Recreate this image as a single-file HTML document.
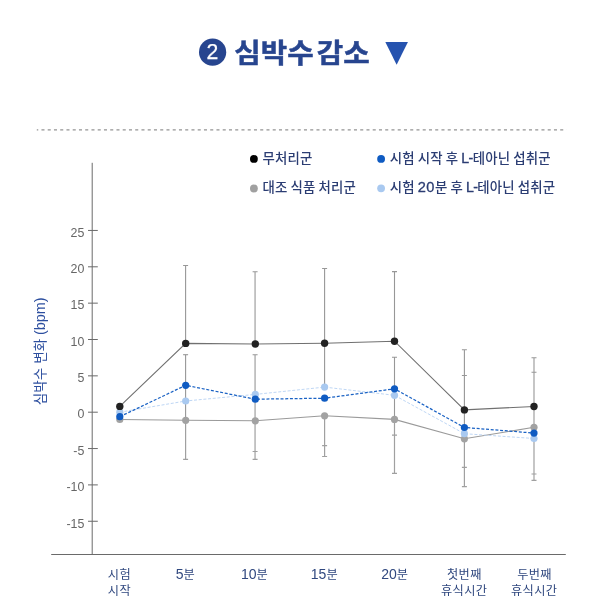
<!DOCTYPE html>
<html lang="ko">
<head>
<meta charset="utf-8">
<title>심박수 감소</title>
<style>
html,body{margin:0;padding:0;background:#fff;}
body{width:605px;height:607px;overflow:hidden;font-family:"Liberation Sans","Noto Sans CJK KR",sans-serif;}
svg{display:block;}
.ko{font-family:"Liberation Sans","Noto Sans CJK KR",sans-serif;}
.title{font-family:"Liberation Sans","Noto Sans CJK KR",sans-serif;font-weight:700;font-size:26.9px;fill:#27458f;stroke:#27458f;stroke-width:0.45px;}
.leg{font-family:"Liberation Sans","Noto Sans CJK KR",sans-serif;font-weight:500;font-size:13.4px;fill:#2b3d73;word-spacing:-0.9px;letter-spacing:0.18px;}
.xl{font-family:"Liberation Sans","Noto Sans CJK KR",sans-serif;font-weight:400;font-size:12.2px;letter-spacing:0.35px;fill:#30487f;text-anchor:middle;}
.xl .d{font-size:14px;letter-spacing:0;}
.leg .d{font-size:14.6px;letter-spacing:0.45px;stroke:#2b3d73;stroke-width:0.3px;}
.leg .L{font-size:14.2px;letter-spacing:-0.6px;stroke:#2b3d73;stroke-width:0.35px;}
.yl{font-family:"Liberation Sans","Noto Sans CJK KR",sans-serif;font-weight:400;font-size:12.4px;fill:#666;text-anchor:end;}
.yt{font-family:"Liberation Sans","Noto Sans CJK KR",sans-serif;font-weight:400;font-size:13.6px;fill:#2d4f9f;text-anchor:middle;}
</style>
</head>
<body>
<svg width="605" height="607" viewBox="0 0 605 607">
<rect width="605" height="607" fill="#fff"/>
<!-- title -->
<circle cx="212.6" cy="52.2" r="13.6" fill="#27458f"/>
<text x="212.4" y="59.0" text-anchor="middle" style="font-family:'Liberation Sans',sans-serif;font-size:21.2px;fill:#fff;stroke:#fff;stroke-width:0.25px;">2</text>
<text class="title" transform="translate(234.3 63.1) scale(1.07 1)" style="word-spacing:-4.7px">심박수 감소</text>
<text x="396.7" y="61.1" text-anchor="middle" style="font-family:'DejaVu Sans',sans-serif;font-size:29.6px;fill:#2653af;">▼</text>
<!-- dotted rule -->
<line x1="36.8" y1="129.9" x2="566.5" y2="129.9" stroke="#949494" stroke-width="1.1" stroke-dasharray="3.05 3.2" stroke-dashoffset="1.6"/>
<!-- legend -->
<circle cx="253.9" cy="158.9" r="3.9" fill="#000"/>
<text class="leg" x="262.5" y="162.9">무처리군</text>
<circle cx="253.9" cy="188.5" r="3.9" fill="#a0a0a0"/>
<text class="leg" x="262.5" y="192.4">대조 식품 처리군</text>
<circle cx="381.1" cy="158.9" r="3.9" fill="#0f5bc2"/>
<text class="leg" x="389.8" y="162.9">시험 시작 후 <tspan class="L">L-</tspan>테아닌 섭취군</text>
<circle cx="381.1" cy="188.3" r="3.9" fill="#a9c9f0"/>
<text class="leg" x="389.8" y="192.4">시험 <tspan class="d">20</tspan>분 후 <tspan class="L">L-</tspan>테아닌 섭취군</text>
<!-- axes -->
<g stroke="#6a6a6a" stroke-width="1" fill="none">
<line x1="92.2" y1="162.8" x2="92.2" y2="554.5"/>
<line x1="51.2" y1="554.5" x2="565.8" y2="554.5"/>
<path d="M88 230.45H97.8M88 266.8H97.8M88 303.15H97.8M88 339.5H97.8M88 375.85H97.8M88 412.2H97.8M88 448.55H97.8M88 484.9H97.8M88 521.25H97.8"/>
</g>
<g class="yl">
<text x="84.4" y="236.6">25</text>
<text x="84.4" y="273">20</text>
<text x="84.4" y="309.3">15</text>
<text x="84.4" y="345.7">10</text>
<text x="84.4" y="382">5</text>
<text x="84.4" y="418.4">0</text>
<text x="84.4" y="454.8">-5</text>
<text x="84.4" y="491.1">-10</text>
<text x="84.4" y="527.5">-15</text>
</g>
<text class="yt" transform="translate(45 351.3) rotate(-90)">심박수 변화 <tspan style="font-size:14.4px">(bpm)</tspan></text>
<!-- x labels -->
<g class="xl">
<text x="119.4" y="578.6">시험</text>
<text x="119.4" y="595.2">시작</text>
<text x="185.4" y="578.6"><tspan class="d">5</tspan>분</text>
<text x="254.6" y="578.6"><tspan class="d">10</tspan>분</text>
<text x="324.4" y="578.6"><tspan class="d">15</tspan>분</text>
<text x="394.8" y="578.6"><tspan class="d">20</tspan>분</text>
<text x="464.4" y="578.6">첫번째</text>
<text x="464.2" y="595.2">휴식시간</text>
<text x="534.6" y="578.6">두번째</text>
<text x="534.2" y="595.2">휴식시간</text>
</g>
<!-- error bars -->
<g stroke="#979797" stroke-width="1.1" fill="none">
<path d="M185.6 265.5V343M183.1 265.5H188.1"/>
<path d="M185.6 354.7V420"/>
<path d="M183.1 354.7H188.1"/>
<path d="M255.05 271.8V344M252.6 271.8H257.6"/>
<path d="M255.05 354.7V420M252.6 354.7H257.6"/>
<path d="M324.6 268.5V387M322.1 268.5H327.1"/>
<path d="M394.5 271.6V341M392 271.6H397"/>
<path d="M394.5 357.3V420M392 357.3H397"/>
<path d="M464.4 349.8V439M461.9 349.8H466.9M461.9 375.5H466.9"/>
<path d="M534 357.8V427M531.5 357.8H536.5M531.5 372.3H536.5"/>
</g>
<g stroke="#a0a0a0" stroke-width="1.2" fill="none">
<path d="M185.6 420V459.4M183.1 459.4H188.1"/>
<path d="M255.05 420V459.4M252.6 459.4H257.6M252.6 451.5H257.6"/>
<path d="M324.6 415.8V456.5M322.1 456.5H327.1M322.1 445.6H327.1"/>
<path d="M394.5 419.4V473.3M392 473.3H397M392 435.2H397"/>
<path d="M464.4 439V486.7M461.9 486.7H466.9M461.9 467.4H466.9"/>
<path d="M534 427V480.3M531.5 480.3H536.5M531.5 474H536.5"/>
</g>
<!-- gray series -->
<polyline fill="none" stroke="#9a9a9a" stroke-width="1.1" points="119.8,419.5 185.7,420.3 255.3,420.8 324.6,415.8 394.5,419.4 464.4,438.8 534,427.3"/>
<g fill="#a2a2a2">
<circle cx="119.8" cy="419.5" r="3.6"/><circle cx="185.7" cy="420.3" r="3.6"/><circle cx="255.3" cy="420.8" r="3.6"/><circle cx="324.6" cy="415.8" r="3.6"/><circle cx="394.5" cy="419.4" r="3.6"/><circle cx="464.4" cy="438.8" r="3.6"/><circle cx="534" cy="427.3" r="3.6"/>
</g>
<!-- light blue series -->
<polyline fill="none" stroke="#bad4f3" stroke-width="0.95" stroke-dasharray="3 1.7" points="119.8,412.2 185.7,401 255.3,394.4 324.6,387.1 394.5,395.3 464.4,433.7 534,438.5"/>
<g fill="#a9c9f0">
<circle cx="119.8" cy="412.2" r="3.6"/><circle cx="185.7" cy="401" r="3.6"/><circle cx="255.3" cy="394.4" r="3.6"/><circle cx="324.6" cy="387.1" r="3.6"/><circle cx="394.5" cy="395.3" r="3.6"/><circle cx="464.4" cy="433.7" r="3.6"/><circle cx="534" cy="438.5" r="3.6"/>
</g>
<!-- blue series -->
<polyline fill="none" stroke="#1a62c4" stroke-width="1.25" stroke-dasharray="3 1.7" points="119.8,416.7 185.7,385.3 255.3,399.2 324.6,398.2 394.5,388.8 464.4,427.5 534,433.1"/>
<g fill="#0f5bc2">
<circle cx="119.8" cy="416.7" r="3.6"/><circle cx="185.7" cy="385.3" r="3.6"/><circle cx="255.3" cy="399.2" r="3.6"/><circle cx="324.6" cy="398.2" r="3.6"/><circle cx="394.5" cy="388.8" r="3.6"/><circle cx="464.4" cy="427.5" r="3.6"/><circle cx="534" cy="433.1" r="3.6"/>
</g>
<!-- black series -->
<polyline fill="none" stroke="#707070" stroke-width="1.1" points="119.8,406.4 185.7,343.4 255.3,344 324.6,343.2 394.5,341.2 464.4,409.9 534,406.5"/>
<g fill="#222">
<circle cx="119.8" cy="406.4" r="3.7"/><circle cx="185.7" cy="343.4" r="3.7"/><circle cx="255.3" cy="344" r="3.7"/><circle cx="324.6" cy="343.2" r="3.7"/><circle cx="394.5" cy="341.2" r="3.7"/><circle cx="464.4" cy="409.9" r="3.7"/><circle cx="534" cy="406.5" r="3.7"/>
</g>
</svg>
</body>
</html>
